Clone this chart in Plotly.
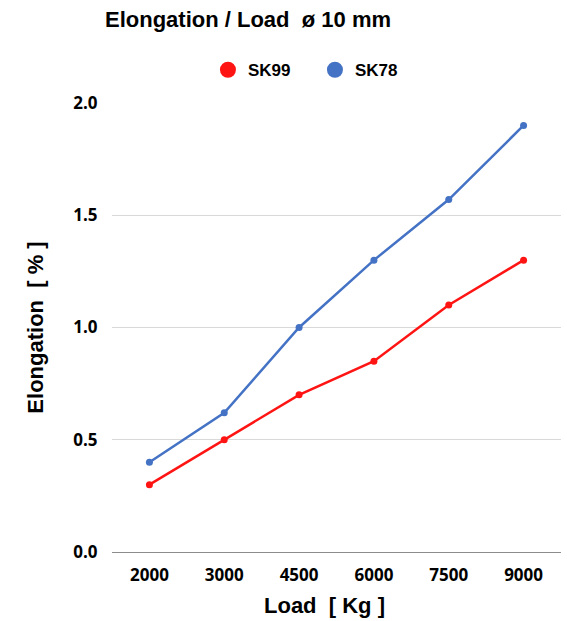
import plotly.graph_objects as go

loads = ["2000", "3000", "4500", "6000", "7500", "9000"]
sk99 = [0.3, 0.5, 0.7, 0.85, 1.1, 1.3]
sk78 = [0.4, 0.62, 1.0, 1.3, 1.57, 1.9]
y_ticks = [0.0, 0.5, 1.0, 1.5, 2.0]
y_tick_labels = ["0.0", "0.5", "1.0", "1.5", "2.0"]

RED = "#ff1414"
BLUE = "#4472c4"

fig = go.Figure()
for name, vals, col in [("SK99", sk99, RED), ("SK78", sk78, BLUE)]:
    fig.add_trace(go.Scatter(x=loads, y=vals, name=name, mode="lines+markers",
                             line=dict(color=col, width=2.5), marker=dict(size=7, color=col),
                             showlegend=False, legendgroup=name))
    # legend-only entry (circle marker, no line)
    fig.add_trace(go.Scatter(x=[None], y=[None], name=name, mode="markers",
                             marker=dict(size=16, color=col), legendgroup=name,
                             showlegend=True, hoverinfo="skip"))

fig.update_layout(
    width=567, height=621,
    margin=dict(l=112, r=6, t=103, b=69),
    paper_bgcolor="white", plot_bgcolor="white",
    title=dict(text="<b>Elongation / Load  ø 10 mm</b>", x=105/567, xanchor="left",
               y=1-19/621, yanchor="middle",
               font=dict(family="Liberation Sans", size=22, color="black")),
    legend=dict(orientation="h", x=0.452, xanchor="center", y=1.073, yanchor="middle",
                font=dict(family="Liberation Sans", size=17, color="black", weight="bold"),
                itemsizing="trace", itemwidth=30, traceorder="normal",
                entrywidth=62, entrywidthmode="pixels"),
    font=dict(family="Open Sans", color="black"),
    annotations=[dict(text="<b>Load  [ Kg ]</b>", xref="paper", yref="paper",
                      x=0.474, y=-0.12, xanchor="center", yanchor="middle",
                      showarrow=False,
                      font=dict(family="Liberation Sans", size=22, color="black"))],
)
fig.update_xaxes(type="category", range=[-0.5, 5.5], showgrid=False, showline=False,
                 zeroline=False, ticks="outside", ticklen=8, tickcolor="rgba(0,0,0,0)",
                 tickfont=dict(family="Open Sans", size=17, color="black", weight="bold"))
fig.update_yaxes(range=[0, 2.0], tickvals=y_ticks, ticktext=y_tick_labels,
                 showgrid=True, gridcolor="#d9d9d9", gridwidth=1,
                 zeroline=True, zerolinecolor="#8c8c8c", zerolinewidth=1,
                 showline=False, ticks="outside", ticklen=10, tickcolor="rgba(0,0,0,0)",
                 tickfont=dict(family="Open Sans", size=17, color="black", weight="bold"),
                 title=dict(text="<b>Elongation  [ % ]</b>", standoff=23,
                            font=dict(family="Liberation Sans", size=22, color="black")))

fig.write_html("out.html", config={"displayModeBar": False},
               post_script="document.body.style.margin='0';")
